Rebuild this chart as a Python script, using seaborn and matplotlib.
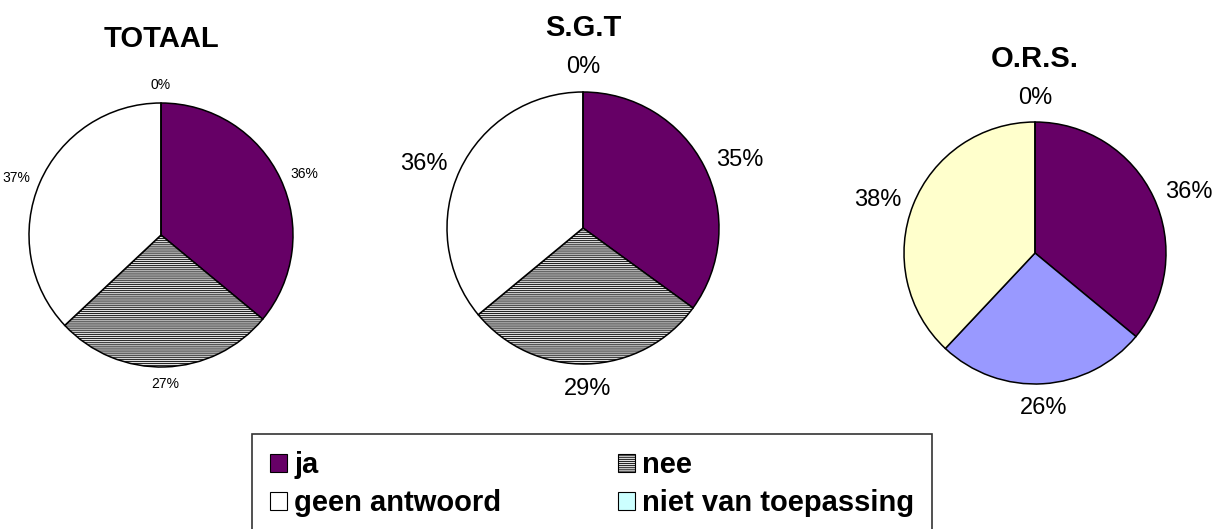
import matplotlib
matplotlib.use("Agg")
import matplotlib.pyplot as plt
import seaborn as sns
from matplotlib.patches import Patch

# --- style ---
sns.set_theme(style="white")
plt.rcParams['font.family'] = ['Liberation Sans', 'DejaVu Sans']
plt.rcParams['text.color'] = 'black'
plt.rcParams['hatch.linewidth'] = 0.6

# --- data ---
categories = ['ja', 'nee', 'geen antwoord', 'niet van toepassing']
titles = ['TOTAAL', 'S.G.T', 'O.R.S.']
totaal = [36, 27, 37, 0]
sgt = [35, 29, 36, 0]
ors = [36, 26, 38, 0]

legend_colors = ['#660066', '#E0E0E0', '#FFFFFF', '#CCFFFF']
legend_hatch = [None, '--------', None, None]
ors_colors = ['#660066', '#9999FF', '#FFFFCC', '#CCFFFF']

W, H = 1212, 529
fig = plt.figure(figsize=(W / 100, H / 100), dpi=100)


def pie_axes(cx, cy, r):
    return fig.add_axes([(cx - r) / W, 1 - (cy + r) / H, 2 * r / W, 2 * r / H])


# (center x, center y, radius, label fontsize, title y, labeldistance)
layout = [
    (161, 235, 132, 10, 39, 1.08),
    (583, 228, 136, 17, 28, 1.10),
    (1035, 253, 131, 17, 59, 1.10),
]
series = [totaal, sgt, ors]
palettes = [legend_colors, legend_colors, ors_colors]
hatches = [legend_hatch, legend_hatch, [None] * 4]

for vals, title, cols, hts, (cx, cy, r, fs, ty, ld) in zip(series, titles, palettes, hatches, layout):
    ax = pie_axes(cx, cy, r)
    labels = [f'{v}%' for v in vals]
    wedges, texts = ax.pie(vals, labels=labels, colors=cols, startangle=90,
                           counterclock=False, labeldistance=ld,
                           wedgeprops=dict(edgecolor='black', linewidth=1.1),
                           textprops=dict(fontsize=fs, color='black'))
    for w, h in zip(wedges, hts):
        if h:
            w.set_hatch(h)
    for t in texts:
        x, y = t.get_position()
        if abs(x) < 0.15:
            t.set_ha('center')
            t.set_va('bottom' if y > 0 else 'top')
    ax.set_xlim(-1, 1)
    ax.set_ylim(-1, 1)
    ax.set_aspect('auto')
    ax.axis('off')
    fig.text(cx / W, 1 - ty / H, title, ha='center', va='center',
             fontsize=21, fontweight='bold', color='black')

# --- legend (filled column-wise, so reorder to read row-wise) ---
order = [0, 2, 1, 3]
handles = [Patch(facecolor=legend_colors[i], edgecolor='black',
                 hatch=legend_hatch[i], linewidth=0.8) for i in order]
leg = fig.legend(handles, [categories[i] for i in order], ncol=2, loc='upper left',
                 bbox_to_anchor=(252 / W, 1 - 439 / H, (932 - 252) / W, 0.01),
                 mode='expand', frameon=True, fancybox=False,
                 prop=dict(weight='bold', size=21),
                 handlelength=0.6, handleheight=0.6, handletextpad=0.25,
                 labelspacing=0.35, borderpad=0.6, borderaxespad=0)
leg.get_frame().set_edgecolor('black')
leg.get_frame().set_linewidth(1.2)
for t in leg.get_texts():
    t.set_color('black')

fig.savefig('out.png', dpi=100)
